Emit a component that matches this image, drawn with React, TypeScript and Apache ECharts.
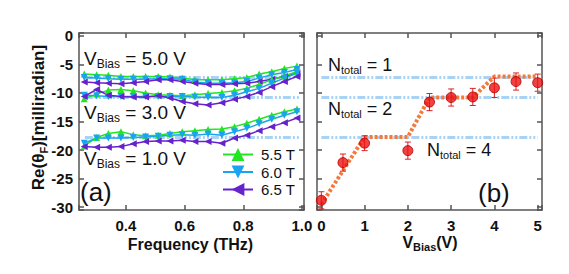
import React, { useEffect, useRef } from 'react';
import * as echarts from 'echarts';

const FONT = 'Arial, "Liberation Sans", Helvetica, sans-serif';

// Panel (a): frequency axis (THz)
const freqs = [0.258, 0.300, 0.340, 0.383, 0.425, 0.467, 0.510, 0.550, 0.592, 0.635, 0.680, 0.727, 0.770, 0.812, 0.854, 0.897, 0.940, 0.983];

// V_Bias = 5.0 V
const g55_5v = [-6.7, -6.8, -6.9, -7.1, -7.1, -7.1, -7.1, -7.2, -7.4, -7.7, -7.7, -7.7, -7.5, -7.3, -6.7, -6.3, -5.7, -5.3];
const c60_5v = [-7.3, -7.4, -7.5, -7.6, -7.6, -7.6, -7.5, -7.5, -7.6, -8.1, -8.3, -8.3, -8.2, -8.0, -7.4, -6.8, -6.4, -5.9];
const p65_5v = [-8.1, -8.2, -8.3, -8.4, -8.2, -8.0, -7.7, -7.7, -8.0, -8.3, -8.5, -8.5, -8.4, -8.3, -8.0, -7.6, -7.1, -6.6];
// V_Bias = 3.0 V
const g55_3v = [-11.0, -10.2, -9.5, -9.4, -9.6, -10.0, -10.3, -10.4, -10.5, -10.3, -10.1, -9.9, -9.6, -9.2, -8.5, -7.7, -7.0, -6.3];
const c60_3v = [-10.4, -10.5, -10.6, -10.6, -10.6, -10.6, -10.6, -10.6, -10.6, -10.7, -10.8, -10.8, -10.4, -9.8, -9.2, -8.3, -7.4, -6.5];
const p65_3v = [-10.6, -9.4, -10.4, -10.6, -10.7, -10.7, -10.5, -10.9, -11.5, -11.9, -12.1, -11.7, -11.1, -10.6, -9.9, -8.9, -8.0, -7.1];
// V_Bias = 1.0 V
const g55_1v = [-19.3, -17.8, -17.1, -16.8, -17.3, -17.5, -17.4, -17.1, -16.8, -16.6, -16.4, -16.3, -15.9, -15.3, -14.6, -13.9, -13.3, -12.8];
const c60_1v = [-18.8, -17.9, -17.9, -17.9, -17.8, -17.7, -17.6, -17.4, -17.3, -17.4, -17.2, -17.4, -16.8, -16.2, -15.4, -14.6, -13.9, -13.3];
const p65_1v = [-19.4, -19.5, -19.5, -19.4, -18.9, -18.5, -18.4, -18.4, -18.3, -18.5, -18.5, -18.8, -17.9, -17.4, -16.6, -15.9, -15.2, -14.4];

const fieldNames = ['5.5 T', '6.0 T', '6.5 T'];
const fieldColors = ['#22e622', '#1aa3f0', '#6622cc'];
const fieldRotate = [0, 180, 90];

// Reference levels (N_total = 1, 2, 4)
const nLevels = [-7.3, -10.8, -17.8];
const levelSpanA = [0.26, 0.99];
const levelSpanB = [0, 5];

// Panel (b)
const bias = [0, 0.5, 1, 2, 2.5, 3, 3.5, 4, 4.5, 5];
const theta = [-28.8, -22.2, -18.8, -20.1, -11.6, -10.8, -10.7, -9.1, -8.0, -8.2];
const thetaErr = [1.5, 1.5, 1.3, 1.5, 1.5, 1.5, 1.5, 1.7, 1.5, 1.5];
const guideX = [0, 1, 2, 2.5, 3.5, 4, 5];
const guideY = [-29.5, -17.7, -17.7, -10.8, -10.8, -7.1, -7.1];

const AX = { color: '#555', width: 1.5 };
const TXT = '#111';

function yFmt(v: number) {
  return Math.abs(v % 5) < 1e-6 ? String(Math.round(v)) : '';
}
function xaFmt(v: number) {
  const k = v / 0.2;
  return Math.abs(k - Math.round(k)) < 1e-6 ? v.toFixed(1) : '';
}
function xbFmt(v: number) {
  return Math.abs(v - Math.round(v)) < 1e-6 ? String(Math.round(v)) : '';
}

function xAxis(grid: number, pos: string, min: number, max: number, fmt: ((v: number) => string) | null) {
  return {
    type: 'value', gridIndex: grid, position: pos, min, max,
    axisLine: { show: true, onZero: false, lineStyle: AX },
    axisTick: { show: true, inside: true, length: 5, lineStyle: AX },
    axisLabel: fmt
      ? { show: true, formatter: fmt, margin: 8, fontSize: 15, fontWeight: 'bold', fontFamily: FONT, color: TXT }
      : { show: false },
    splitLine: { show: false },
  };
}
function yAxis(grid: number, pos: string, fmt: ((v: number) => string) | null) {
  return {
    type: 'value', gridIndex: grid, position: pos, min: -30.5, max: 0.5,
    axisLine: { show: true, onZero: false, lineStyle: AX },
    axisTick: { show: true, inside: true, length: 5, lineStyle: AX },
    axisLabel: fmt
      ? { show: true, formatter: fmt, margin: 6, fontSize: 15, fontWeight: 'bold', fontFamily: FONT, color: TXT }
      : { show: false },
    splitLine: { show: false },
  };
}

function subText(x: number, y: number, big: string, sub: string, rest: string, bigSize: number, subSize: number, bold: boolean, align = 'left') {
  const fw = bold ? 'bold' : 'normal';
  return {
    type: 'text', x, y, z: 50,
    style: {
      text: `{b|${big}}{s|${sub}}{b|${rest}}`,
      align, verticalAlign: 'middle',
      rich: {
        b: { fontSize: bigSize, fontFamily: FONT, fontWeight: fw, fill: TXT, lineHeight: bigSize + 4, verticalAlign: 'middle' },
        s: { fontSize: subSize, fontFamily: FONT, fontWeight: fw, fill: TXT, lineHeight: subSize - 1, verticalAlign: 'bottom' },
      },
    },
  };
}
function plainText(x: number, y: number, text: string, size: number, bold: boolean, align = 'left') {
  return {
    type: 'text', x, y, z: 50,
    style: { text, fontSize: size, fontFamily: FONT, fontWeight: bold ? 'bold' : 'normal', fill: TXT, align, verticalAlign: 'middle' },
  };
}

const groupsA = [
  [g55_5v, c60_5v, p65_5v],
  [g55_3v, c60_3v, p65_3v],
  [g55_1v, c60_1v, p65_1v],
];

export default function App() {
  const ref = useRef<HTMLDivElement>(null);
  useEffect(() => {
    const chart = echarts.init(ref.current!, null, { renderer: 'svg' });
    const series: any[] = [];
    nLevels.forEach((l) => {
      series.push({
        type: 'line', xAxisIndex: 0, yAxisIndex: 0, silent: true, symbol: 'none', z: 1,
        data: [[levelSpanA[0], l], [levelSpanA[1], l]],
        lineStyle: { color: '#a8d3f5', width: 3, type: [8, 2, 2, 2, 2, 2] },
      });
    });
    groupsA.forEach((grp) => {
      grp.forEach((vals, k) => {
        series.push({
          type: 'line', name: fieldNames[k], xAxisIndex: 0, yAxisIndex: 0, z: 3,
          data: freqs.map((f, i) => [f, vals[i]]),
          symbol: 'triangle', symbolSize: 7, symbolRotate: fieldRotate[k],
          lineStyle: { color: fieldColors[k], width: 1.5 },
          itemStyle: { color: fieldColors[k] },
        });
      });
    });
    nLevels.forEach((l) => {
      series.push({
        type: 'line', xAxisIndex: 2, yAxisIndex: 2, silent: true, symbol: 'none', z: 1,
        data: [[levelSpanB[0], l], [levelSpanB[1], l]],
        lineStyle: { color: '#a8d3f5', width: 3, type: [8, 2, 2, 2, 2, 2] },
      });
    });
    series.push({
      type: 'line', xAxisIndex: 2, yAxisIndex: 2, silent: true, symbol: 'none', z: 2,
      data: guideX.map((x, i) => [x, guideY[i]]),
      lineStyle: { color: '#f47a3c', width: 4, type: [3, 2] },
    });
    series.push({
      type: 'custom', xAxisIndex: 2, yAxisIndex: 2, z: 4, clip: true,
      data: bias.map((b, i) => [b, theta[i], thetaErr[i]]),
      encode: { x: 0, y: 1 },
      renderItem: (params: any, api: any) => {
        const x = api.value(0), y = api.value(1), e = api.value(2);
        const t = api.coord([x, y + e]);
        const b = api.coord([x, y - e]);
        const w = 3;
        const st = { stroke: '#e02020', lineWidth: 1 };
        return {
          type: 'group',
          children: [
            { type: 'line', shape: { x1: t[0], y1: t[1], x2: b[0], y2: b[1] }, style: st },
            { type: 'line', shape: { x1: t[0] - w, y1: t[1], x2: t[0] + w, y2: t[1] }, style: st },
            { type: 'line', shape: { x1: b[0] - w, y1: b[1], x2: b[0] + w, y2: b[1] }, style: st },
          ],
        };
      },
    });
    series.push({
      type: 'scatter', xAxisIndex: 2, yAxisIndex: 2, z: 5,
      data: bias.map((b, i) => [b, theta[i]]),
      symbolSize: 10,
      itemStyle: { color: '#ee1111', borderColor: '#b00000', borderWidth: 1 },
    });

    const option: any = {
      animation: false,
      backgroundColor: '#ffffff',
      grid: [
        { left: 79, top: 33, width: 225, height: 177 },
        { left: 317, top: 33, width: 225, height: 177 },
      ],
      xAxis: [
        xAxis(0, 'bottom', 0.24, 1.007, xaFmt),
        xAxis(0, 'top', 0.24, 1.007, null),
        xAxis(1, 'bottom', -0.1, 5.1, xbFmt),
        xAxis(1, 'top', -0.1, 5.1, null),
      ],
      yAxis: [
        yAxis(0, 'left', yFmt),
        yAxis(0, 'right', null),
        yAxis(1, 'left', null),
        yAxis(1, 'right', null),
      ],
      legend: {
        data: fieldNames, orient: 'vertical', left: 222, top: 147, padding: 0,
        itemWidth: 30, itemHeight: 16, itemGap: 2.5, selectedMode: false,
        textStyle: { fontSize: 15, fontFamily: FONT, color: TXT, padding: [0, 0, 0, 3] },
      },
      series,
      graphic: [
        subText(84, 58.5, 'V', 'Bias', ' = 5.0 V', 19, 12, false),
        subText(84, 112.5, 'V', 'Bias', ' = 3.0 V', 19, 12, false),
        subText(84, 158.5, 'V', 'Bias', ' = 1.0 V', 19, 12, false),
        plainText(80, 192, '(a)', 26, false),
        plainText(478, 192.5, '(b)', 26, false),
        subText(328, 64.5, 'N', 'total', ' = 1', 18, 11, false),
        subText(328, 108.5, 'N', 'total', ' = 2', 18, 11, false),
        subText(427, 149.5, 'N', 'total', ' = 4', 18, 11, false),
        plainText(190.5, 244, 'Frequency (THz)', 16, true, 'center'),
        subText(430, 242.5, 'V', 'Bias', '(V)', 16, 11, true, 'center'),
        {
          type: 'text', x: 38.5, y: 117.5, rotation: Math.PI / 2, z: 50,
          style: {
            text: '{m|Re(θ}{s|F}{m|)[milliradian]}', align: 'center', verticalAlign: 'middle',
            rich: {
              m: { fontSize: 17, fontFamily: FONT, fontWeight: 'bold', fill: TXT, lineHeight: 21, verticalAlign: 'middle' },
              s: { fontSize: 11, fontFamily: FONT, fontWeight: 'bold', fill: TXT, lineHeight: 10, verticalAlign: 'bottom' },
            },
          },
        },
      ],
    };
    chart.setOption(option);
    return () => chart.dispose();
  }, []);
  return <div ref={ref} style={{ position: 'fixed', left: 0, top: 0, width: 569, height: 274, background: '#fff' }} />;
}
